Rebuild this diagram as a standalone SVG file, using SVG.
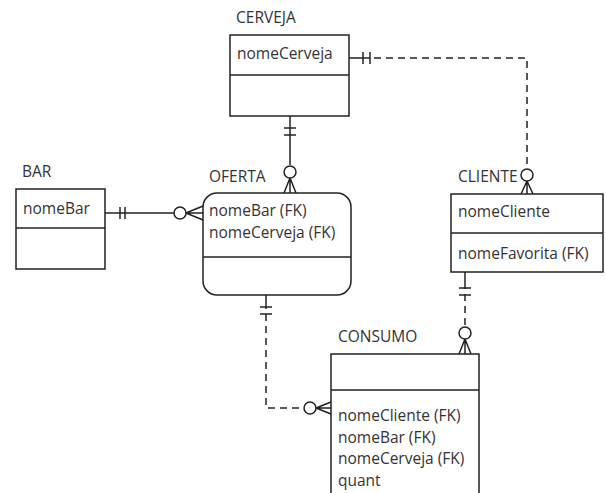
<svg xmlns="http://www.w3.org/2000/svg" width="606" height="493" viewBox="0 0 606 493">
<style>
.box{fill:#fff;stroke:#222;stroke-width:1.5}
.div{stroke:#222;stroke-width:1.5}
.t{font-family:"Open Sans",sans-serif;font-size:15.5px;fill:#333}
.ln{fill:none;stroke:#222;stroke-width:1.5}
.dash{stroke-dasharray:7 5}
.c{fill:#fff;stroke:#222;stroke-width:1.5}
</style>
<rect width="606" height="493" fill="#fff"/>
<g id="connectors">
  <!-- CERVEJA - OFERTA -->
  <line class="ln" x1="290" y1="116" x2="290" y2="165"/>
  <line class="ln" x1="284" y1="128" x2="296" y2="128"/>
  <line class="ln" x1="284" y1="135" x2="296" y2="135"/>
  <path class="ln" d="M290 178 L284 193 M290 178 L290 193 M290 178 L296 193"/>
  <circle class="c" cx="290" cy="172" r="6"/>
  <!-- BAR - OFERTA -->
  <line class="ln" x1="105" y1="213" x2="174" y2="213"/>
  <line class="ln" x1="120" y1="207" x2="120" y2="219"/>
  <line class="ln" x1="125" y1="207" x2="125" y2="219"/>
  <path class="ln" d="M186 213 L203 206 M186 213 L203 213 M186 213 L203 220"/>
  <circle class="c" cx="180" cy="213" r="6"/>
  <!-- CERVEJA - CLIENTE -->
  <line class="ln" x1="349" y1="58" x2="370" y2="58"/>
  <line class="ln" x1="363" y1="52" x2="363" y2="64"/>
  <line class="ln" x1="370" y1="52" x2="370" y2="64"/>
  <path class="ln dash" d="M374 58 L527 58 L527 168"/>
  <path class="ln" d="M527 181 L521 194 M527 181 L527 194 M527 181 L533 194"/>
  <circle class="c" cx="527" cy="175" r="6"/>
  <!-- CLIENTE - CONSUMO -->
  <line class="ln" x1="465" y1="272" x2="465" y2="282"/>
  <line class="ln" x1="459" y1="288" x2="471" y2="288"/>
  <line class="ln" x1="459" y1="295" x2="471" y2="295"/>
  <path class="ln dash" d="M465 282 L465 327"/>
  <path class="ln" d="M465 339 L459 354 M465 339 L465 354 M465 339 L471 354"/>
  <circle class="c" cx="465" cy="333" r="6"/>
  <!-- OFERTA - CONSUMO -->
  <line class="ln" x1="266" y1="295" x2="266" y2="302"/>
  <line class="ln" x1="260" y1="307" x2="272" y2="307"/>
  <line class="ln" x1="260" y1="314" x2="272" y2="314"/>
  <path class="ln dash" d="M266 302 L266 408 L304 408"/>
  <path class="ln" d="M316 408 L331 402 M316 408 L331 408 M316 408 L331 414"/>
  <circle class="c" cx="310" cy="408" r="6"/>
</g>
<g id="cerveja">
  <text class="t" x="236" y="23">CERVEJA</text>
  <rect class="box" x="230" y="35" width="119" height="81"/>
  <line class="div" x1="230" y1="75" x2="349" y2="75"/>
  <text class="t" x="237" y="59">nomeCerveja</text>
</g>
<g id="bar">
  <text class="t" x="22" y="177">BAR</text>
  <rect class="box" x="16" y="189" width="89" height="80"/>
  <line class="div" x1="16" y1="228" x2="105" y2="228"/>
  <text class="t" x="23" y="214">nomeBar</text>
</g>
<g id="oferta">
  <text class="t" x="209" y="182">OFERTA</text>
  <rect class="box" x="203" y="193" width="148" height="102" rx="14"/>
  <line class="div" x1="203" y1="257" x2="351" y2="257"/>
  <text class="t" x="209" y="216">nomeBar (FK)</text>
  <text class="t" x="209" y="238">nomeCerveja (FK)</text>
</g>
<g id="cliente">
  <text class="t" x="458" y="182">CLIENTE</text>
  <rect class="box" x="451" y="194" width="152" height="78"/>
  <line class="div" x1="451" y1="233" x2="603" y2="233"/>
  <text class="t" x="458" y="217">nomeCliente</text>
  <text class="t" x="458" y="259">nomeFavorita (FK)</text>
</g>
<g id="consumo">
  <text class="t" x="338" y="342">CONSUMO</text>
  <rect class="box" x="331" y="354" width="148" height="150"/>
  <line class="div" x1="331" y1="390" x2="479" y2="390"/>
  <text class="t" x="338" y="421">nomeCliente (FK)</text>
  <text class="t" x="338" y="443">nomeBar (FK)</text>
  <text class="t" x="338" y="464">nomeCerveja (FK)</text>
  <text class="t" x="338" y="486">quant</text>
</g>
</svg>
